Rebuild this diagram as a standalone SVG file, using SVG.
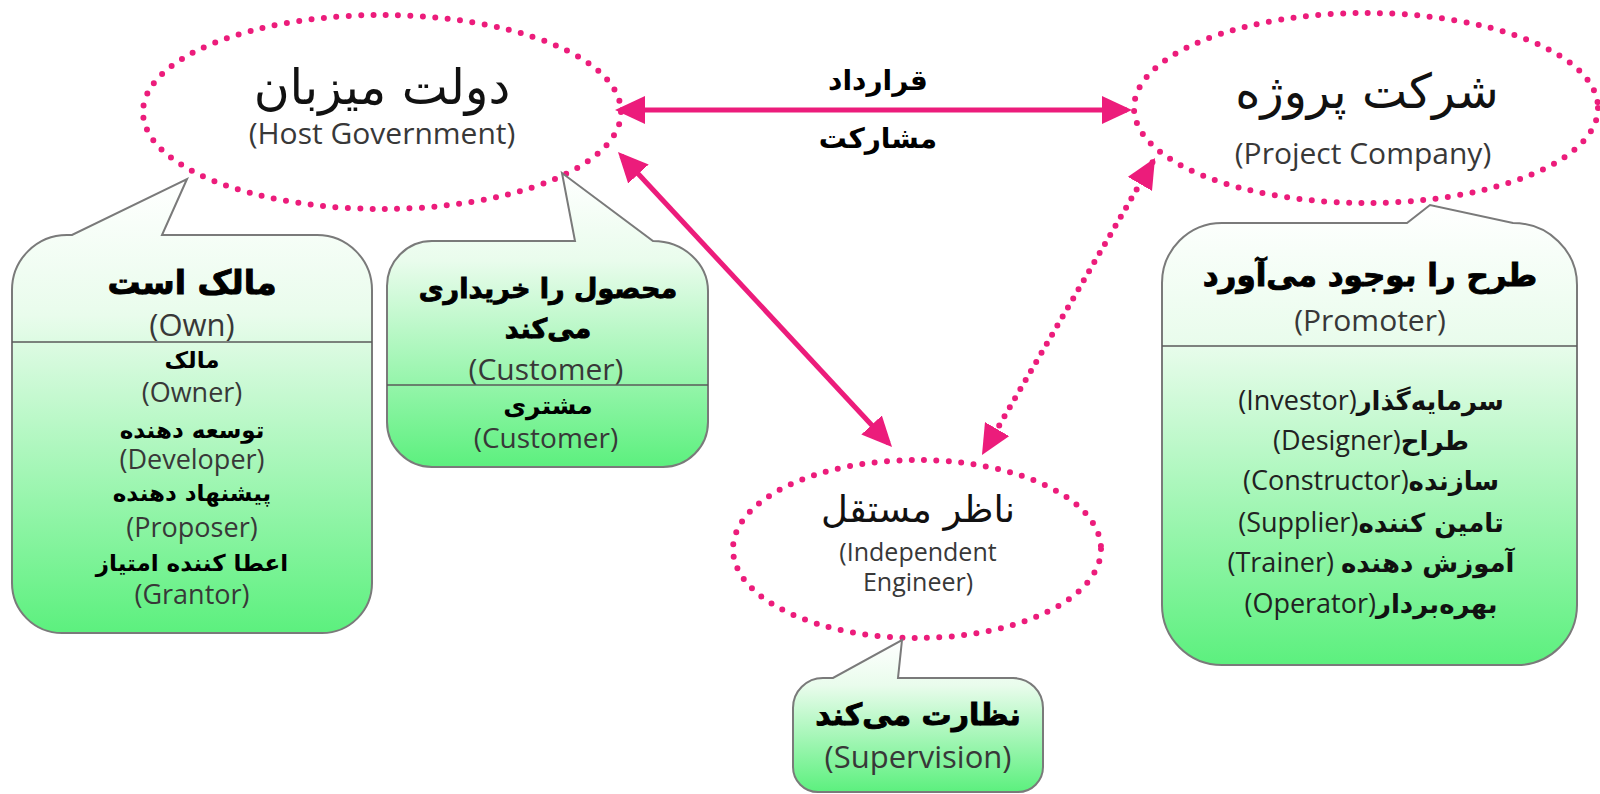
<svg xmlns="http://www.w3.org/2000/svg" width="1600" height="794" viewBox="0 0 1600 794">
  <defs>
    <style>
      .dotted { fill: none; stroke: #EC1C7B; stroke-width: 6; stroke-linecap: round; stroke-dasharray: 0 12.4; }
      .link { fill: none; stroke: #EC1C7B; stroke-width: 5; }
      .link-dot { fill: none; stroke: #EC1C7B; stroke-width: 6; stroke-linecap: round; stroke-dasharray: 0 10.5; }
      .callout { fill: url(#green); stroke: #7a7a7a; stroke-width: 2; }
      .divider { stroke: #5a5a5a; stroke-width: 1.6; }
      .fa { font-family: "DejaVu Sans", sans-serif; fill: #111; text-anchor: middle; }
      .fab { font-family: "DejaVu Sans", sans-serif; font-weight: bold; fill: #000; text-anchor: middle; }
      .head { stroke: #000; stroke-width: 0.9; }
      .en { font-family: "Open Sans", "DejaVu Sans", sans-serif; fill: #383838; text-anchor: middle; }
      .mix { font-family: "Open Sans", "DejaVu Sans", sans-serif; fill: #222; text-anchor: middle; font-size: 27px; }
      .mix .p { font-family: "DejaVu Sans", sans-serif; font-weight: bold; font-size: 26px; fill: #111; }
    </style>
    <linearGradient id="green" x1="0" y1="0" x2="0" y2="1">
      <stop offset="0" stop-color="#ffffff"/>
      <stop offset="0.3" stop-color="#e9fcec"/>
      <stop offset="1" stop-color="#5cf07e"/>
    </linearGradient>
    <marker id="head" viewBox="0 0 30 28" refX="25" refY="14" markerWidth="30" markerHeight="28" markerUnits="userSpaceOnUse" orient="auto-start-reverse">
      <path d="M0,0 L30,14 L0,28 Z" fill="#EC1C7B"/>
    </marker>
  </defs>

  <!-- relationships between the three parties -->
  <g id="connectors">
    <line class="link" x1="620" y1="110" x2="1127" y2="110" marker-start="url(#head)" marker-end="url(#head)"/>
    <line class="link" x1="621.4" y1="155.7" x2="888.6" y2="443.3" marker-start="url(#head)" marker-end="url(#head)"/>
    <line class="link-dot" x1="1152.5" y1="162.3" x2="984.5" y2="450.7" marker-start="url(#head)" marker-end="url(#head)"/>
    <text class="fab" x="878" y="90" font-size="28" fill="#333" direction="rtl">قرارداد</text>
    <text class="fab" x="878" y="148" font-size="28" fill="#333" direction="rtl">مشارکت</text>
  </g>

  <!-- host government -->
  <g id="host-government">
    <ellipse class="dotted" cx="382" cy="112" rx="239" ry="97"/>
    <text class="fa" x="382" y="104" font-size="49" direction="rtl">دولت میزبان</text>
    <text class="en" x="382" y="144" font-size="30">(Host Government)</text>
  </g>

  <!-- project company -->
  <g id="project-company">
    <ellipse class="dotted" cx="1366" cy="108" rx="232" ry="95"/>
    <text class="fa" x="1367" y="108" font-size="48" direction="rtl">شرکت پروژه</text>
    <text class="en" x="1363" y="164" font-size="30">(Project Company)</text>
  </g>

  <!-- independent engineer -->
  <g id="independent-engineer">
    <ellipse class="dotted" cx="917" cy="549" rx="184" ry="89"/>
    <text class="fa" x="918" y="522" font-size="37" direction="rtl">ناظر مستقل</text>
    <text class="en" font-size="25"><tspan x="918" y="561">(Independent</tspan><tspan x="918" y="591">Engineer)</tspan></text>
  </g>

  <!-- role: owner -->
  <g id="role-own">
    <path class="callout" d="M12,290 A55,55 0 0 1 67,235 L72,235 L187,179 L162,235 L317,235 A55,55 0 0 1 372,290 L372,583 A50,50 0 0 1 322,633 L62,633 A50,50 0 0 1 12,583 Z"/>
    <line class="divider" x1="12" y1="342" x2="372" y2="342"/>
    <text class="fab head" x="192" y="294" font-size="33" direction="rtl">مالک است</text>
    <text class="en" x="192" y="336" font-size="31">(Own)</text>
    <text class="fab" x="192" y="368" font-size="23" direction="rtl">مالک</text>
    <text class="en" x="192" y="402" font-size="27">(Owner)</text>
    <text class="fab" x="192" y="438" font-size="23" direction="rtl">توسعه دهنده</text>
    <text class="en" x="192" y="469" font-size="27">(Developer)</text>
    <text class="fab" x="192" y="501" font-size="23" direction="rtl">پیشنهاد دهنده</text>
    <text class="en" x="192" y="537" font-size="27">(Proposer)</text>
    <text class="fab" x="192" y="571" font-size="23" direction="rtl">اعطا کننده امتیاز</text>
    <text class="en" x="192" y="604" font-size="27">(Grantor)</text>
  </g>

  <!-- role: customer -->
  <g id="role-customer">
    <path class="callout" d="M387,286 A45,45 0 0 1 432,241 L575,241 L562,173 L653,241 A55,50 0 0 1 708,291 L708,422 A45,45 0 0 1 663,467 L432,467 A45,45 0 0 1 387,422 Z"/>
    <line class="divider" x1="387" y1="385" x2="708" y2="385"/>
    <text class="fab head" x="548" y="298" font-size="27" direction="rtl">محصول را خریداری</text>
    <text class="fab head" x="548" y="338" font-size="27" direction="rtl">می‌کند</text>
    <text class="en" x="546" y="380" font-size="30">(Customer)</text>
    <text class="fab" x="548" y="414" font-size="25" direction="rtl">مشتری</text>
    <text class="en" x="546" y="448" font-size="28">(Customer)</text>
  </g>

  <!-- role: promoter -->
  <g id="role-promoter">
    <path class="callout" d="M1162,283 A60,60 0 0 1 1222,223 L1407,223 L1430,205 L1513,223 A64,62 0 0 1 1577,285 L1577,605 A60,60 0 0 1 1517,665 L1222,665 A60,60 0 0 1 1162,605 Z"/>
    <line class="divider" x1="1162" y1="346" x2="1577" y2="346"/>
    <text class="fab head" x="1370" y="286" font-size="31" direction="rtl">طرح را بوجود می‌آورد</text>
    <text class="en" x="1370" y="331" font-size="30">(Promoter)</text>
    <text class="mix" x="1371" y="410" direction="rtl"><tspan class="p">سرمایه‌گذار</tspan>(Investor)</text>
    <text class="mix" x="1371" y="450" direction="rtl"><tspan class="p">طراح</tspan>(Designer)</text>
    <text class="mix" x="1371" y="490" direction="rtl"><tspan class="p">سازنده</tspan>(Constructor)</text>
    <text class="mix" x="1371" y="532" direction="rtl"><tspan class="p">تامین کننده</tspan>(Supplier)</text>
    <text class="mix" x="1371" y="572" direction="rtl"><tspan class="p">آموزش دهنده</tspan> (Trainer)</text>
    <text class="mix" x="1371" y="613" direction="rtl"><tspan class="p">بهره‌بردار</tspan>(Operator)</text>
  </g>

  <!-- role: supervision -->
  <g id="role-supervision">
    <path class="callout" d="M793,708 A30,30 0 0 1 823,678 L833,678 L902,640 L898,678 L1013,678 A30,30 0 0 1 1043,708 L1043,767 A25,25 0 0 1 1018,792 L818,792 A25,25 0 0 1 793,767 Z"/>
    <text class="fab head" x="918" y="725" font-size="30" direction="rtl">نظارت می‌کند</text>
    <text class="en" x="918" y="768" font-size="31">(Supervision)</text>
  </g>
</svg>
